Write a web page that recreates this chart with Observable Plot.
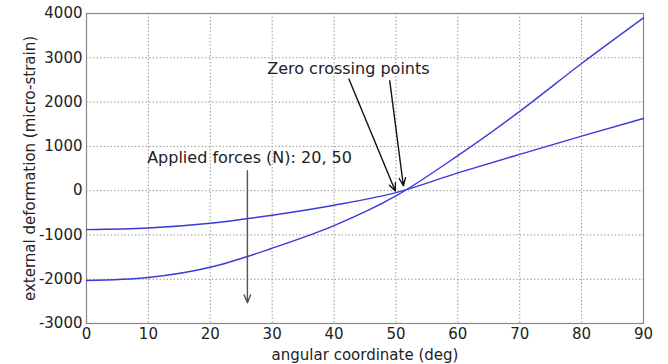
<!DOCTYPE html>
<html>
<head>
<meta charset="utf-8">
<script src="https://cdn.jsdelivr.net/npm/d3@7"></script>
<script src="https://cdn.jsdelivr.net/npm/@observablehq/plot@0.6"></script>
<style>
  html, body { margin: 0; padding: 0; background: #fff; }
  svg { display: block; }
</style>
</head>
<body>
<div id="chart"></div>
<script>
const angles = [0, 10, 20, 30, 40, 50, 60, 70, 80, 90];
const force50 = [-2030, -1960, -1730, -1300, -790, -120, 790, 1790, 2870, 3900];
const force20 = [-880, -845, -737, -555, -330, -45, 400, 820, 1230, 1630];
const xTicks = [0, 10, 20, 30, 40, 50, 60, 70, 80, 90];
const yTicks = [-3000, -2000, -1000, 0, 1000, 2000, 3000, 4000];

const labelTexts = ["Zero crossing points", "Applied forces (N): 20, 50"];
const labelX = [29.2, 9.8];
const labelY = [2745, 738];

const arrowX1 = [42.4, 49.0, 26.0];
const arrowY1 = [2520, 2480, 451];
const arrowX2 = [49.9, 51.2, 26.0];
const arrowY2 = [-10, 110, -2530];
const arrowColor = ["#111", "#111", "#555"];

const series = [
  ...angles.map((a, i) => ({angle: a, value: force50[i], s: "50"})),
  ...angles.map((a, i) => ({angle: a, value: force20[i], s: "20"}))
];
const labels = labelTexts.map((t, i) => ({t, x: labelX[i], y: labelY[i]}));
const arrows = arrowX1.map((x1, i) => ({x1, y1: arrowY1[i], x2: arrowX2[i], y2: arrowY2[i], c: arrowColor[i]}));

const font = "'DejaVu Sans', Arial, Helvetica, sans-serif";

const chart = Plot.plot({
  width: 668,
  height: 364,
  marginLeft: 86,
  marginRight: 25,
  marginTop: 13,
  marginBottom: 41,
  style: {fontFamily: font, fontSize: "15px", color: "#222", background: "#fff"},
  x: {domain: [0, 90], ticks: xTicks},
  y: {domain: [-3000, 4000], ticks: yTicks},
  marks: [
    Plot.gridX(xTicks, {stroke: "#999", strokeOpacity: 1, strokeDasharray: "1.5,2"}),
    Plot.gridY(yTicks, {stroke: "#999", strokeOpacity: 1, strokeDasharray: "1.5,2"}),
    Plot.axisX(xTicks, {tickSize: 0, tickPadding: 5, fontSize: 15, tickFormat: d => String(d), label: "angular coordinate (deg)", labelAnchor: "center", labelArrow: "none", labelOffset: 36}),
    Plot.axisY(yTicks, {tickSize: 0, tickPadding: 4, fontSize: 15, tickFormat: d => String(d), label: "external deformation (micro-strain)", labelAnchor: "center", labelArrow: "none", labelOffset: 62}),
    Plot.frame({stroke: "#888", strokeWidth: 1.2}),
    Plot.line(series, {x: "angle", y: "value", z: "s", stroke: "#3a3ad8", strokeWidth: 1.4, curve: "monotone-x"}),
    Plot.arrow(arrows, {x1: "x1", y1: "y1", x2: "x2", y2: "y2", stroke: d => d.c, strokeWidth: 1.4, headLength: 9, headAngle: 45}),
    Plot.text(labels, {x: "x", y: "y", text: "t", textAnchor: "start", fontSize: 16, fill: "#222"})
  ]
});
document.getElementById("chart").appendChild(chart);
</script>
</body>
</html>
